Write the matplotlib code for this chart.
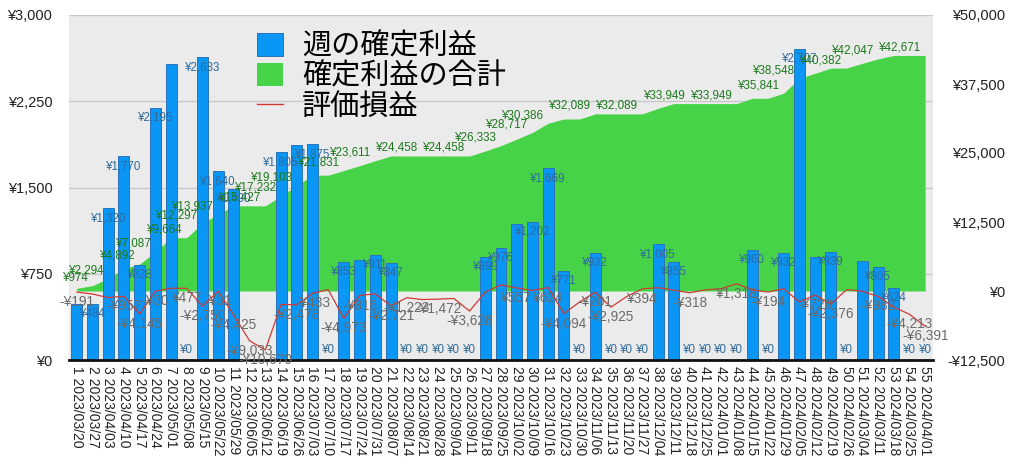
import matplotlib
matplotlib.use("Agg")
import matplotlib.pyplot as plt
from matplotlib.patches import Patch
from matplotlib.lines import Line2D

plt.rcParams['font.family'] = ['Liberation Sans', 'Noto Sans CJK JP', 'DejaVu Sans']

# data
weeks = list(range(1, 56))
dates = ["2023/03/20", "2023/03/27", "2023/04/03", "2023/04/10", "2023/04/17",
         "2023/04/24", "2023/05/01", "2023/05/08", "2023/05/15", "2023/05/22",
         "2023/05/29", "2023/06/05", "2023/06/12", "2023/06/19", "2023/06/26",
         "2023/07/03", "2023/07/10", "2023/07/17", "2023/07/24", "2023/07/31",
         "2023/08/07", "2023/08/14", "2023/08/21", "2023/08/28", "2023/09/04",
         "2023/09/11", "2023/09/18", "2023/09/25", "2023/10/02", "2023/10/09",
         "2023/10/16", "2023/10/23", "2023/10/30", "2023/11/06", "2023/11/13",
         "2023/11/20", "2023/11/27", "2023/12/04", "2023/12/11", "2023/12/18",
         "2023/12/25", "2024/01/01", "2024/01/08", "2024/01/15", "2024/01/22",
         "2024/01/29", "2024/02/05", "2024/02/12", "2024/02/19", "2024/02/26",
         "2024/03/04", "2024/03/11", "2024/03/18", "2024/03/25", "2024/04/01"]

weekly = [490, 484, 1320, 1770, 828, 2195, 2577, 0, 2633, 1640,
          1490, 0, 0, 1805, 1871, 1875, 0, 853, 869, 911,
          847, 0, 0, 0, 0, 0, 899, 976, 1182, 1202,
          1669, 771, 0, 932, 0, 0, 0, 1005, 855, 0,
          0, 0, 0, 960, 0, 932, 2707, 895, 939, 0,
          860, 805, 624, 0, 0]

cumulative = [490, 974, 2294, 4064, 4892, 7087, 9664, 9664, 12297, 13937,
              15427, 15427, 15427, 17232, 19103, 20978, 20978, 21831, 22700, 23611,
              24458, 24458, 24458, 24458, 24458, 24458, 25357, 26333, 27515, 28717,
              30386, 31157, 31157, 32089, 32089, 32089, 32089, 33094, 33949, 33949,
              33949, 33949, 33949, 34909, 34909, 35841, 38548, 39443, 40382, 40382,
              41242, 42047, 42671, 42671, 42671]

unrealized = [-191, -550, -1200, -957, -4145, -30, 500, 477, -2750, -31,
              -4425, -9033, -10670, -2450, -2478, -433, 250, -4973, -816, -500,
              -2721, -1223, -1550, -1472, -1350, -3628, -200, 1100, 557, 100,
              624, -4094, -2000, -201, -2925, -1000, 394, 600, 150, -318,
              200, 400, 1318, 200, -194, 400, -2000, -728, -2376, 250,
              -50, -982, -2900, -4213, -6391]

# which points carry a value label in the original
bar_labelled = [2, 3, 4, 5, 6, 8, 9, 10, 11, 14, 16, 17, 18, 20, 21, 22, 23, 24, 25,
                26, 27, 28, 30, 31, 32, 33, 34, 35, 36, 37, 38, 39, 40, 41, 42, 43,
                44, 45, 46, 47, 49, 50, 52, 53, 54, 55]
cum_labelled = [2, 3, 5, 6, 8, 9, 10, 13, 14, 15, 18, 20, 23, 26, 28, 30, 31, 34,
                37, 40, 43, 46, 47, 50, 52, 55]
line_labelled = [1, 4, 5, 6, 8, 9, 10, 11, 12, 13, 15, 16, 18, 19, 21, 22, 24, 26,
                 29, 31, 32, 34, 35, 37, 40, 43, 45, 48, 49, 52, 54, 55]

left_ticks = [0, 750, 1500, 2250, 3000]
right_ticks = [-12500, 0, 12500, 25000, 37500, 50000]
legend_labels = ["週の確定利益", "確定利益の合計", "評価損益"]


def yen(v):
    return f"-¥{abs(v):,}" if v < 0 else f"¥{v:,}"


blue = "#0A96F5"
green = "#47D347"
red = "#D03A32"

fig = plt.figure(figsize=(10.24, 4.74), dpi=100)
ax = fig.add_axes([69 / 1024, 1 - 360 / 474, 864 / 1024, 345 / 474])
ax2 = ax.twinx()
ax3 = ax.twinx()
ax2.set_zorder(1)
ax.set_zorder(2)
ax3.set_zorder(3)
ax.patch.set_visible(False)
ax3.patch.set_visible(False)
ax2.patch.set_visible(True)
ax2.patch.set_facecolor("#EBEBEB")

lo1, hi1 = left_ticks[0], left_ticks[-1]
lo2, hi2 = right_ticks[0], right_ticks[-1]
for a in (ax2, ax3):
    a.set_ylim(lo2, hi2)
ax.set_ylim(lo1, hi1)
ax.set_xlim(0.5, len(weeks) + 0.5)

# grid lines follow the left axis but sit behind the green area
for t in left_ticks[1:]:
    ax2.axhline(lo2 + (t - lo1) / (hi1 - lo1) * (hi2 - lo2), color="#C9C9C9", lw=1, zorder=0.5)

ax2.fill_between(weeks, 0, cumulative, color=green, lw=0, zorder=1)
ax.bar(weeks, weekly, width=0.7, color=blue, edgecolor="#2C72B8", lw=0.7, zorder=2)
ax3.plot(weeks, unrealized, color=red, lw=0.9, zorder=2)

for w in bar_labelled:
    v = weekly[w - 1]
    ax.annotate(yen(v), (w, v), xytext=(0, -10 if v > 0 else 10), textcoords="offset pixels",
                ha="center", va="center", fontsize=8.3, color="#2E6A9E", zorder=5)

for w in line_labelled:
    v = unrealized[w - 1]
    ax3.annotate(yen(v), (w, v), xytext=(0, -10), textcoords="offset pixels",
                 ha="center", va="center", fontsize=9.8, color="#6B6B6B", zorder=5)

for w in cum_labelled:
    v = cumulative[w - 1]
    ax3.annotate(yen(v), (w, v), xytext=(-4, 2), textcoords="offset pixels",
                 ha="right", va="bottom", fontsize=8.4, color="#1C7A1C", zorder=6)

# axes cosmetics
for a in (ax, ax2, ax3):
    for s in a.spines.values():
        s.set_visible(False)
ax.spines["bottom"].set_visible(True)
ax.spines["bottom"].set_linewidth(2)
ax.spines["bottom"].set_color("#111111")

ax.set_yticks(left_ticks)
ax.set_yticklabels([yen(t) for t in left_ticks])
ax.tick_params(axis="y", length=0, pad=12, labelsize=10.5, labelcolor="#222222")

ax2.set_yticks(right_ticks)
ax2.set_yticklabels([yen(t) for t in right_ticks])
ax2.tick_params(axis="y", length=0, pad=51.8, labelsize=10.5, labelcolor="#222222")
for lab in ax2.get_yticklabels():
    lab.set_horizontalalignment("right")
ax3.yaxis.set_visible(False)

ax.set_xticks(weeks)
ax.set_xticklabels([f"{w} {d}" for w, d in zip(weeks, dates)], rotation=-90,
                   fontsize=10, color="#222222")
ax.tick_params(axis="x", length=0, pad=4)

handles = [Patch(facecolor=blue, edgecolor="#2C72B8", lw=0.7),
           Patch(facecolor=green),
           Line2D([0], [0], color=red, lw=1)]
ax3.legend(handles, legend_labels, loc="upper left", bbox_to_anchor=(0.2176, 0.95),
           frameon=False, fontsize=21, handlelength=0.9, handleheight=0.85,
           handletextpad=0.65, labelspacing=0.08, borderpad=0, borderaxespad=0)

fig.savefig("out.png", dpi=100)
